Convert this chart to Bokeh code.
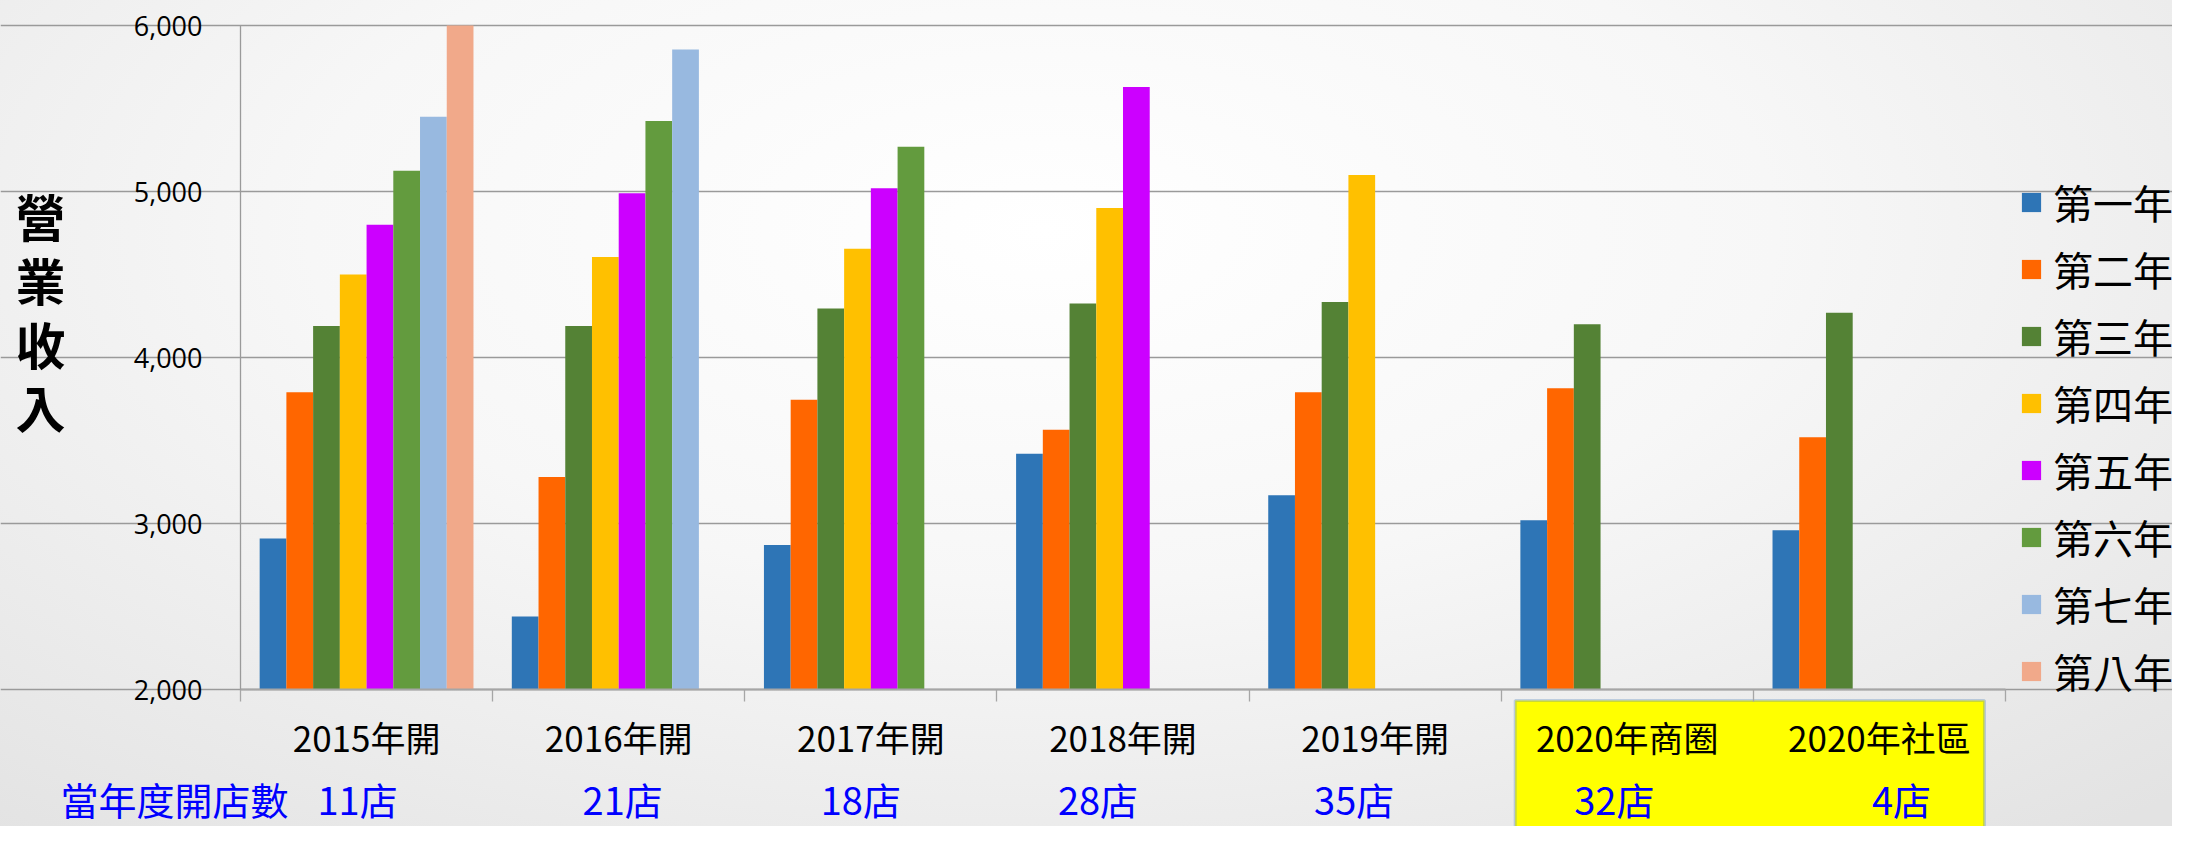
from bokeh.plotting import figure
from bokeh.models import (Range1d, LinearAxis, FixedTicker, NumeralTickFormatter,
                          Legend, LegendItem, Label, BoxAnnotation, Grid)
from bokeh.embed import file_html
from bokeh.resources import INLINE

# ---------------- data ----------------
categories = ["2015年開", "2016年開", "2017年開", "2018年開", "2019年開", "2020年商圈", "2020年社區"]
store_counts = ["11店", "21店", "18店", "28店", "35店", "32店", "4店"]
series_names = ["第一年", "第二年", "第三年", "第四年", "第五年", "第六年", "第七年", "第八年"]

year1 = [2910, 2440, 2870, 3420, 3170, 3020, 2960]
year2 = [3790, 3280, 3745, 3565, 3790, 3815, 3520]
year3 = [4190, 4190, 4295, 4325, 4335, 4200, 4270]
year4 = [4500, 4605, 4655, 4900, 5100, None, None]
year5 = [4800, 4990, 5020, 5630, None, None, None]
year6 = [5125, 5425, 5270, None, None, None, None]
year7 = [5450, 5855, None, None, None, None, None]
year8 = [6000, None, None, None, None, None, None]

y_ticks = [2000, 3000, 4000, 5000, 6000]
y_axis_title = "營業收入"
count_title = "當年度開店數"

# ---------------- layout / styles ----------------
W, H = 2172, 826
PL, PR, PT, PB = 240, 2005, 25, 689          # pixel box of the plotting area
Y0, Y1 = 2000, 6000
NCAT = len(categories)
px_x = (PR - PL) / NCAT                         # pixels per category
px_y = (PB - PT) / (Y1 - Y0)                    # pixels per value unit

colors = ["#2E75B6", "#FF6600", "#548235", "#FFC000", "#CC00FF", "#639B3E", "#98B9E0", "#F1A98A"]
count_dx = [-9, 4, -10, -25, -21, -13, 22]
CJK = "Noto Sans CJK TC"
GRID = "#9a9a9a"
AXIS = "#a6a6a6"

x_range = Range1d(-0.5 - PL / px_x, -0.5 + (W - PL) / px_x)
y_range = Range1d(Y0 - (H - PB) / px_y, Y1 + PT / px_y)

p = figure(width=W, height=H, x_range=x_range, y_range=y_range,
           output_backend="svg", toolbar_location=None,
           x_axis_type=None, y_axis_type=None,
           min_border_left=0, min_border_right=0, min_border_top=0, min_border_bottom=0)
p.background_fill_alpha = 0
p.border_fill_alpha = 0
p.outline_line_color = None
p.styles = {"background": "radial-gradient(ellipse 75% 95% at 48% 28%, #ffffff 0%, #f7f7f7 45%, #e3e3e3 100%)"}

# highlight box for the 2020 categories (under the axis labels)
box = BoxAnnotation(left=4.5 + 14 / px_x, right=6.5 - 21 / px_x,
                    top=Y0 - 11 / px_y, bottom=Y0 - 400 / px_y,
                    fill_color="#FFFF00", fill_alpha=1.0, line_color="#4A7EBB", line_width=3,
                    level="underlay")
p.add_layout(box)

# y axis
yaxis = LinearAxis(ticker=FixedTicker(ticks=y_ticks), formatter=NumeralTickFormatter(format="0,0"),
                   fixed_location=-0.5, bounds=(Y0, Y1))
yaxis.axis_line_color = GRID
yaxis.axis_line_width = 1.3
yaxis.major_tick_line_color = GRID
yaxis.major_tick_out = 10
yaxis.major_tick_in = 0
yaxis.minor_tick_line_color = None
yaxis.major_label_text_font = "Open Sans"
yaxis.major_label_text_font_size = "27px"
yaxis.major_label_text_color = "#000000"
yaxis.major_label_standoff = 28
p.add_layout(yaxis, "left")

grid = Grid(dimension=1, ticker=yaxis.ticker, bounds=(-0.5, NCAT - 0.5),
            grid_line_color=GRID, grid_line_width=1.3)
p.add_layout(grid)

# x axis: boundary ticks
xticks_axis = LinearAxis(ticker=FixedTicker(ticks=[i - 0.5 for i in range(NCAT + 1)]),
                         fixed_location=Y0, bounds=(-0.5, NCAT - 0.5))
xticks_axis.axis_line_color = AXIS
xticks_axis.axis_line_width = 2
xticks_axis.major_tick_line_color = AXIS
xticks_axis.major_tick_line_width = 1.3
xticks_axis.major_tick_out = 12
xticks_axis.major_tick_in = 0
xticks_axis.minor_tick_line_color = None
xticks_axis.major_label_overrides = {i - 0.5: " " for i in range(NCAT + 1)}
xticks_axis.major_label_text_font_size = "1px"
p.add_layout(xticks_axis, "below")

# x axis: category labels
xlab_axis = LinearAxis(ticker=FixedTicker(ticks=list(range(NCAT))),
                       major_label_overrides={i: c for i, c in enumerate(categories)},
                       fixed_location=Y0, bounds=(-0.5, NCAT - 0.5))
xlab_axis.axis_line_color = None
xlab_axis.major_tick_line_color = None
xlab_axis.minor_tick_line_color = None
xlab_axis.major_tick_out = 0
xlab_axis.major_tick_in = 0
xlab_axis.major_label_standoff = 21
xlab_axis.major_label_text_font = CJK
xlab_axis.major_label_text_font_size = "35px"
xlab_axis.major_label_text_color = "#000000"
p.add_layout(xlab_axis, "below")

# bars
all_series = [year1, year2, year3, year4, year5, year6, year7, year8]
bar_w = 0.106
items = []
for j, (name, vals) in enumerate(zip(series_names, all_series)):
    xs = [i + (j - 3.5) * bar_w for i in range(NCAT)]
    tops = [float("nan") if v is None else v for v in vals]
    r = p.vbar(x=xs, top=tops, bottom=Y0, width=bar_w, fill_color=colors[j], line_color=None)
    items.append(LegendItem(label=name, renderers=[r]))

legend = Legend(items=items, location=(2019, 122), orientation="vertical",
                glyph_width=24, glyph_height=24, label_height=67, spacing=0,
                padding=0, margin=0, label_standoff=10,
                label_text_font=CJK, label_text_font_size="40px", label_text_color="#000000",
                background_fill_alpha=0, border_line_alpha=0)
p.add_layout(legend)

# vertical y-axis title, one character per line
title_dy = [189, 253, 317, 380]
for k, ch in enumerate(y_axis_title):
    p.add_layout(Label(x=-0.5, y=Y1, x_offset=-200, y_offset=-title_dy[k], text=ch,
                       text_align="center", text_baseline="middle",
                       text_font=CJK, text_font_size="50px", text_font_style="bold",
                       text_color="#000000"))

# store counts
p.add_layout(Label(x=-0.5, y=Y0, x_offset=-180, y_offset=-109, text=count_title,
                   text_align="left", text_baseline="middle",
                   text_font=CJK, text_font_size="38px", text_color="#0000FF"))
for i, txt in enumerate(store_counts):
    p.add_layout(Label(x=i, y=Y0, x_offset=count_dx[i], y_offset=-109, text=txt,
                       text_align="center", text_baseline="middle",
                       text_font=CJK, text_font_size="38px", text_color="#0000FF"))

open("out.html", "w").write(file_html(p, INLINE))
